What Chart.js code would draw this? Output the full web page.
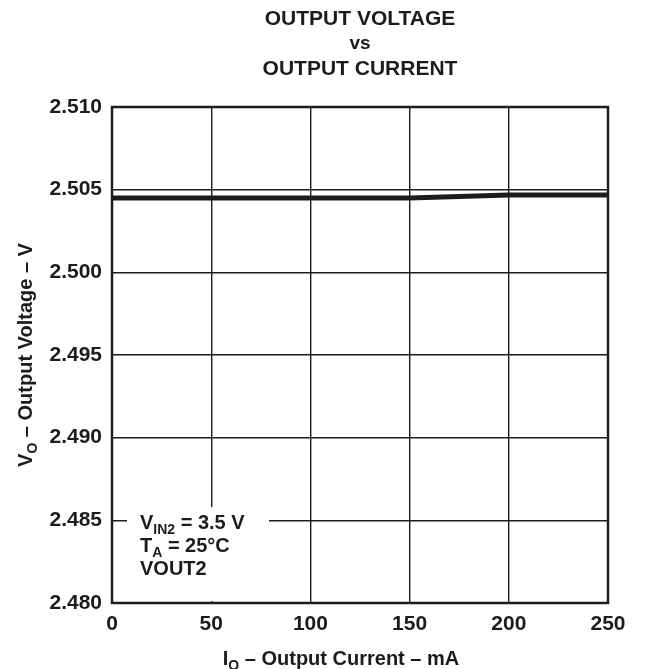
<!DOCTYPE html>
<html>
<head>
<meta charset="utf-8">
<script src="https://cdn.jsdelivr.net/npm/chart.js@4/dist/chart.umd.min.js"></script>
<style>
  html, body { margin: 0; padding: 0; background: #fff; }
  #wrap { width: 662px; height: 669px; }
</style>
</head>
<body>
<div id="wrap"><canvas id="c" width="662" height="669"></canvas></div>
<script>
// ---- data ----
const titleLines = ['OUTPUT VOLTAGE', 'vs', 'OUTPUT CURRENT'];
const currents = [0, 50, 100, 150, 200, 250];          // mA
const voltages = [2.5045, 2.5045, 2.5045, 2.5045, 2.50467, 2.50467]; // V
const xTicks = [0, 50, 100, 150, 200, 250];
const yTicks = [2.480, 2.485, 2.490, 2.495, 2.500, 2.505, 2.510];
const xTitle = [{t: 'I'}, {t: 'O', sub: true}, {t: ' \u2013 Output Current \u2013 mA'}];
const yTitle = [{t: 'V'}, {t: 'O', sub: true}, {t: ' \u2013 Output Voltage \u2013 V'}];
const noteLines = [
  [{t: 'V'}, {t: 'IN2', sub: true}, {t: ' = 3.5 V'}],
  [{t: 'T'}, {t: 'A', sub: true}, {t: ' = 25\u00B0C'}],
  [{t: 'VOUT2'}]
];

const FONT = "'Liberation Sans', Arial, Helvetica, sans-serif";
const INK = '#1c1c1c';
const FS = 21;

function richWidth(ctx, parts, size) {
  let w = 0;
  for (const p of parts) {
    ctx.font = 'bold ' + (p.sub ? Math.round(size * 0.72) : size) + 'px ' + FONT;
    w += ctx.measureText(p.t).width;
  }
  return w;
}
function drawRich(ctx, parts, x, y, size, align) {
  const w = richWidth(ctx, parts, size);
  let cx = align === 'center' ? x - w / 2 : x;
  ctx.textAlign = 'left';
  ctx.textBaseline = 'alphabetic';
  for (const p of parts) {
    const s = p.sub ? Math.round(size * 0.72) : size;
    ctx.font = 'bold ' + s + 'px ' + FONT;
    ctx.fillText(p.t, cx, p.sub ? y + size * 0.26 : y);
    cx += ctx.measureText(p.t).width;
  }
}

const decor = {
  id: 'decor',
  beforeDatasetsDraw(chart) {
    const ctx = chart.ctx;
    const xs = chart.scales.x, ys = chart.scales.y;
    ctx.save();
    // white backing of the note (it interrupts the grid)
    ctx.fillStyle = '#fff';
    ctx.fillRect(xs.left + 15, ys.getPixelForValue(2.4858), 142, 94);
    ctx.fillStyle = INK;
    const x0 = xs.left + 28;
    const base = ys.getPixelForValue(2.48447);
    noteLines.forEach((ln, i) => drawRich(ctx, ln, x0, base + i * 23, 20, 'left'));
    ctx.restore();
  },
  afterDraw(chart) {
    const ctx = chart.ctx;
    const a = chart.chartArea;
    ctx.save();
    ctx.strokeStyle = INK;
    ctx.lineWidth = 2.5;
    ctx.strokeRect(a.left, a.top, a.right - a.left, a.bottom - a.top);
    ctx.fillStyle = INK;
    const cx = (a.left + a.right) / 2;
    ctx.textAlign = 'center';
    ctx.textBaseline = 'alphabetic';
    ctx.font = 'bold ' + FS + 'px ' + FONT;
    ctx.fillText(titleLines[0], cx, 25);
    ctx.font = 'bold 19px ' + FONT;
    ctx.fillText(titleLines[1], cx, 49);
    ctx.font = 'bold ' + FS + 'px ' + FONT;
    ctx.fillText(titleLines[2], cx, 75);
    // x axis title
    drawRich(ctx, xTitle, 341, 665, 20, 'center');
    // y axis title (rotated)
    ctx.translate(32, (a.top + a.bottom) / 2);
    ctx.rotate(-Math.PI / 2);
    drawRich(ctx, yTitle, 0, 0, 20, 'center');
    ctx.restore();
  }
};

new Chart(document.getElementById('c'), {
  type: 'line',
  data: {
    datasets: [{
      data: currents.map((x, i) => ({x: x, y: voltages[i]})),
      borderColor: INK,
      borderWidth: 5,
      pointRadius: 0,
      tension: 0,
      fill: false
    }]
  },
  options: {
    responsive: false,
    devicePixelRatio: 1,
    animation: false,
    events: [],
    layout: { padding: { top: 107, right: 54, left: 0, bottom: 0 } },
    plugins: { legend: { display: false }, title: { display: false }, tooltip: { enabled: false } },
    scales: {
      x: {
        type: 'linear',
        min: 0, max: 250,
        afterBuildTicks: s => { s.ticks = xTicks.map(v => ({value: v})); },
        afterFit: s => { s.height = 66; },
        ticks: { color: INK, font: { family: FONT, size: FS, weight: 'bold' }, padding: 9, maxRotation: 0 },
        grid: { color: INK, lineWidth: 1.4, drawTicks: false },
        border: { display: false }
      },
      y: {
        type: 'linear',
        min: 2.48, max: 2.51,
        afterBuildTicks: s => { s.ticks = yTicks.map(v => ({value: v})); },
        afterFit: s => { s.width = 112; },
        ticks: { color: INK, font: { family: FONT, size: FS, weight: 'bold' }, padding: 10,
                 callback: v => Number(v).toFixed(3) },
        grid: { color: INK, lineWidth: 1.4, drawTicks: false },
        border: { display: false }
      }
    }
  },
  plugins: [decor]
});
</script>
</body>
</html>
